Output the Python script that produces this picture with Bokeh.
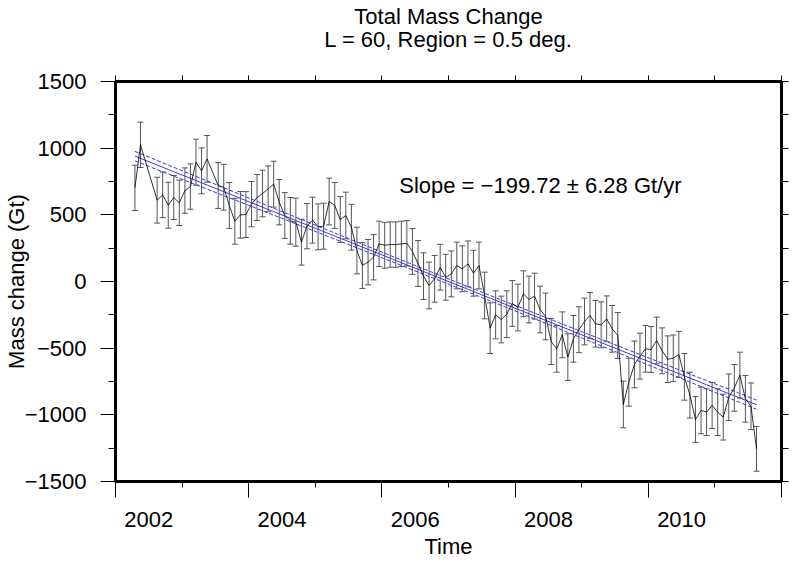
import math
from bokeh.plotting import figure
from bokeh.models import Range1d, FixedTicker, LinearAxis, Label
from bokeh.embed import file_html
from bokeh.resources import INLINE

# ---- data ----
dates = [
    2002.292, 2002.375, 2002.625, 2002.708, 2002.792, 2002.875, 2002.958,
    2003.042, 2003.125, 2003.208, 2003.292, 2003.375,
    2003.542, 2003.625, 2003.708, 2003.792, 2003.875, 2003.958,
    2004.042, 2004.125, 2004.208, 2004.292, 2004.375, 2004.458,
    2004.542, 2004.625, 2004.708, 2004.792, 2004.875, 2004.958,
    2005.042, 2005.125, 2005.208, 2005.292, 2005.375, 2005.458,
    2005.542, 2005.625, 2005.708, 2005.792, 2005.875, 2005.958,
    2006.042, 2006.125, 2006.208, 2006.292, 2006.375, 2006.458,
    2006.542, 2006.625, 2006.708, 2006.792, 2006.875, 2006.958,
    2007.042, 2007.125, 2007.208, 2007.292, 2007.375, 2007.458,
    2007.542, 2007.625, 2007.708, 2007.792, 2007.875, 2007.958,
    2008.042, 2008.125, 2008.208, 2008.292, 2008.375, 2008.458,
    2008.542, 2008.625, 2008.708, 2008.792, 2008.875, 2008.958,
    2009.042, 2009.125, 2009.208, 2009.292, 2009.375, 2009.458,
    2009.542, 2009.625, 2009.708, 2009.792, 2009.875, 2009.958,
    2010.042, 2010.125, 2010.208, 2010.292, 2010.375, 2010.458,
    2010.542, 2010.625, 2010.708, 2010.792, 2010.875, 2010.958,
    2011.042, 2011.125, 2011.208, 2011.292, 2011.375, 2011.458,
    2011.542, 2011.625,
]
mass = [
    702, 1025, 610, 650, 572, 630, 590,
    682, 712, 895, 830, 920,
    720, 707, 570, 452, 500, 502,
    580, 630, 660, 695, 730, 595,
    495, 455, 445, 295, 415, 460,
    410, 415, 600, 570, 465, 495,
    407, 232, 120, 145, 182, 282,
    272, 277, 277, 282, 287, 225,
    135, 40, -30, 20, 107, 32,
    57, 120, 95, 132, 62, 120,
    -105, -350, -250, -285, -245, -165,
    -195, -92, -135, -110, -210, -262,
    -450, -505, -400, -567, -430, -362,
    -300, -255, -317, -325, -280, -355,
    -405, -922, -755, -622, -560, -505,
    -510, -442, -520, -583, -576, -546,
    -715, -852, -1035, -967, -980, -930,
    -980, -1017, -868, -798, -702, -880,
    -936, -1255,
]
err = [
    170, 170, 172, 171, 172, 165, 170,
    170, 170, 172, 172, 175,
    172, 172, 172, 172, 175, 172,
    170, 172, 175, 172, 172, 170,
    172, 175, 180, 172, 170, 172,
    172, 172, 175, 172, 172, 175,
    172, 175, 172, 170, 170, 170,
    172, 170, 170, 170, 170, 172,
    172, 175, 175, 175, 172, 172,
    172, 175, 172, 172, 172, 175,
    175, 190, 180, 175, 175, 172,
    175, 172, 175, 172, 175, 175,
    172, 175, 172, 175, 175, 172,
    175, 172, 175, 172, 172, 175,
    172, 175, 180, 175, 172, 175,
    172, 175, 172, 175, 175, 172,
    175, 172, 172, 175, 175, 172,
    175, 172, 175, 175, 172, 175,
    175, 168,
]
assert len(dates) == len(mass) == len(err)

# linear trend (from the annotation) and its confidence band
slope = -199.72
slope_err = 6.28
fit_start_value = 940.0   # trend value at the first epoch
fit_se_mean = 20.0        # band half-width at the mean epoch

x_major_ticks = [2002, 2004, 2006, 2008, 2010, 2012]
x_minor_ticks = [2003, 2005, 2007, 2009, 2011]
x_label_pos = [2002.5, 2004.5, 2006.5, 2008.5, 2010.5]
x_tick_labels = ["2002", "2004", "2006", "2008", "2010"]
year_ticks = [2002, 2003, 2004, 2005, 2006, 2007, 2008, 2009, 2010, 2011, 2012]
y_major_ticks = [-1500, -1000, -500, 0, 500, 1000, 1500]
y_tick_labels = ["\u22121500", "\u22121000", "\u2212500", "0", "500", "1000", "1500"]
y_minor_ticks = [-1250, -750, -250, 250, 750, 1250]

title_1 = "Total Mass Change"
title_2 = "L = 60, Region = 0.5 deg."
x_title = "Time"
y_title = "Mass change (Gt)"
slope_text = "Slope = \u2212199.72 \u00b1 6.28 Gt/yr"

FONT = "Liberation Sans"
FS = "22px"

# ---- derived trend lines ----
t0 = dates[0]
tm = sum(dates) / len(dates)
trend = [fit_start_value + slope * (t - t0) for t in dates]
band = [math.sqrt(fit_se_mean ** 2 + (slope_err * (t - tm)) ** 2) for t in dates]
trend_hi = [a + b for a, b in zip(trend, band)]
trend_lo = [a - b for a, b in zip(trend, band)]
lo = [m - e for m, e in zip(mass, err)]
hi = [m + e for m, e in zip(mass, err)]

p = figure(frame_width=666, frame_height=400,
           x_range=Range1d(2002, 2012), y_range=Range1d(-1500, 1500),
           output_backend="svg", toolbar_location=None,
           x_axis_location=None, y_axis_location=None,
           min_border_left=115, min_border_right=16,
           min_border_top=81, min_border_bottom=80)
p.grid.visible = False
p.outline_line_color = "black"
p.outline_line_width = 3
p.background_fill_color = "white"
p.border_fill_color = "white"


def styled_axis(ticker, overrides, tick_out, minor_out=0, standoff=0, show_labels=False):
    ax = LinearAxis(ticker=ticker, major_label_overrides=overrides)
    ax.axis_line_color = None
    ax.major_tick_in = 0
    ax.minor_tick_in = 0
    ax.major_tick_out = tick_out
    ax.minor_tick_out = minor_out
    ax.major_tick_line_color = "black"
    ax.minor_tick_line_color = "black"
    ax.major_tick_line_width = 1
    ax.minor_tick_line_width = 1
    ax.major_label_standoff = standoff
    ax.major_label_text_font = FONT
    ax.major_label_text_font_size = FS if show_labels else "0px"
    ax.major_label_text_color = "black"
    ax.axis_label_text_font = FONT
    ax.axis_label_text_font_size = FS
    ax.axis_label_text_font_style = "normal"
    ax.axis_label_text_color = "black"
    return ax


left = styled_axis(FixedTicker(ticks=y_major_ticks, minor_ticks=y_minor_ticks),
                   {v: s for v, s in zip(y_major_ticks, y_tick_labels)}, 15, 7, 14,
                   show_labels=True)
left.axis_label = y_title
left.axis_label_standoff = -7
p.add_layout(left, "left")

right = styled_axis(FixedTicker(ticks=sorted(y_major_ticks + y_minor_ticks), minor_ticks=[]),
                    {v: "" for v in y_major_ticks + y_minor_ticks}, 7)
p.add_layout(right, "right")

# tick marks of the time axis (long on even years, short on odd years)
bottom_ticks = styled_axis(FixedTicker(ticks=x_major_ticks, minor_ticks=x_minor_ticks),
                           {v: "" for v in x_major_ticks}, 16, 6)
p.add_layout(bottom_ticks, "below")

# year labels centred within their year, plus the axis title
bottom_labels = styled_axis(FixedTicker(ticks=x_label_pos, minor_ticks=[]),
                            {v: s for v, s in zip(x_label_pos, x_tick_labels)}, 0, 0, 14,
                            show_labels=True)
bottom_labels.major_tick_line_color = None
bottom_labels.minor_tick_line_color = None
bottom_labels.axis_label = x_title
bottom_labels.axis_label_standoff = 4
p.add_layout(bottom_labels, "below")

# top ticks; the two-line chart title is carried as this axis' label
top = styled_axis(FixedTicker(ticks=year_ticks, minor_ticks=[]),
                  {v: "" for v in year_ticks}, 6)
top.axis_label = title_1 + "\n" + title_2
top.axis_label_text_line_height = 0.9
top.axis_label_standoff = 24
p.add_layout(top, "above")

# error bars
bar_color = "#555555"
p.segment(x0=dates, y0=lo, x1=dates, y1=hi, line_color=bar_color, line_width=1)
p.dash(x=dates, y=hi, size=6, line_color=bar_color, line_width=1)
p.dash(x=dates, y=lo, size=6, line_color=bar_color, line_width=1)

# trend lines
blue = "#3a3ad0"
p.line(dates, trend_hi, line_color=blue, line_width=1, line_dash="4 2")
p.line(dates, trend_lo, line_color=blue, line_width=1, line_dash="4 2")
p.line(dates, trend, line_color=blue, line_width=1)

# data line
p.line(dates, mass, line_color="black", line_width=0.8)

p.add_layout(Label(x=2008.38, y=720, text=slope_text, text_font=FONT, text_font_size=FS,
                   text_color="black", text_align="center", text_baseline="middle"))

open("out.html", "w").write(file_html(p, INLINE))
